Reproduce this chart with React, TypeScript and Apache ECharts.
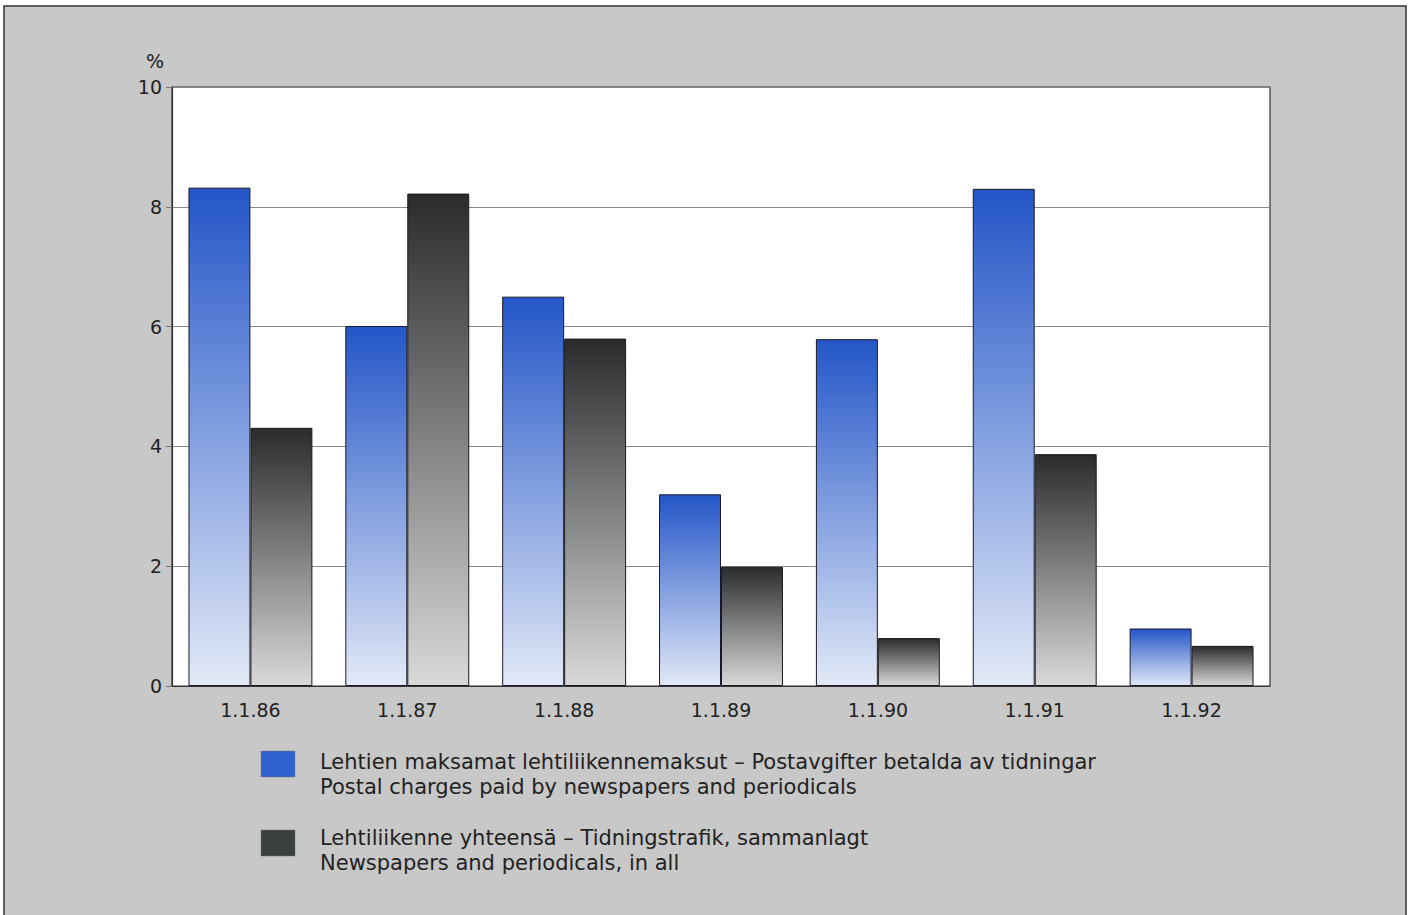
import React, { useEffect, useRef } from "react";
import * as echarts from "echarts";

const categories = ["1.1.86", "1.1.87", "1.1.88", "1.1.89", "1.1.90", "1.1.91", "1.1.92"];
const postalCharges = [8.32, 6.01, 6.5, 3.2, 5.79, 8.3, 0.96];
const trafficTotal = [4.31, 8.22, 5.8, 1.99, 0.8, 3.87, 0.67];
const yTicks = { min: 0, max: 10, interval: 2 };
const seriesNames = [
  "Lehtien maksamat lehtiliikennemaksut \u2013 Postavgifter betalda av tidningar\nPostal charges paid by newspapers and periodicals",
  "Lehtiliikenne yhteensä \u2013 Tidningstrafik, sammanlagt\nNewspapers and periodicals, in all",
];

const FONT = "'DejaVu Sans', sans-serif";

export default function App() {
  const ref = useRef<HTMLDivElement>(null);
  useEffect(() => {
    if (!ref.current) return;
    const chart = echarts.init(ref.current, undefined, { renderer: "svg" });
    const blueGrad = new echarts.graphic.LinearGradient(0, 0, 0, 1, [
      { offset: 0, color: "#2456c8" },
      { offset: 1, color: "#e2e9f7" },
    ]);
    const grayGrad = new echarts.graphic.LinearGradient(0, 0, 0, 1, [
      { offset: 0, color: "#2a2b2d" },
      { offset: 1, color: "#d9d9d9" },
    ]);
    const legendLines = seriesNames.map((n) => n.split("\n"));
    const lf = `21px ${FONT}`;
    chart.setOption({
      animation: false,
      backgroundColor: "#ffffff",
      textStyle: { fontFamily: FONT },
      graphic: [
        {
          type: "rect",
          z: -10,
          shape: { x: 4, y: 6, width: 1402, height: 915 },
          style: { fill: "#c8c8c8", stroke: "#333", lineWidth: 1.5 },
        },
        {
          type: "text",
          x: 155,
          y: 61,
          style: { text: "%", font: `19px ${FONT}`, fill: "#222", align: "center", verticalAlign: "middle" },
        },
        {
          type: "rect",
          shape: { x: 261, y: 751, width: 34, height: 26 },
          style: { fill: "#3160d0", stroke: "#777", lineWidth: 0.5 },
        },
        {
          type: "text",
          x: 320,
          y: 762,
          style: { text: legendLines[0][0], font: lf, fill: "#222", verticalAlign: "middle" },
        },
        {
          type: "text",
          x: 320,
          y: 787,
          style: { text: legendLines[0][1], font: lf, fill: "#222", verticalAlign: "middle" },
        },
        {
          type: "rect",
          shape: { x: 261, y: 830, width: 34, height: 26 },
          style: { fill: "#3b3e3f", stroke: "#777", lineWidth: 0.5 },
        },
        {
          type: "text",
          x: 320,
          y: 838,
          style: { text: legendLines[1][0], font: lf, fill: "#222", verticalAlign: "middle" },
        },
        {
          type: "text",
          x: 320,
          y: 863,
          style: { text: legendLines[1][1], font: lf, fill: "#222", verticalAlign: "middle" },
        },
      ],
      grid: {
        left: 172,
        top: 87,
        width: 1098,
        height: 599,
        show: true,
        backgroundColor: "#ffffff",
        borderColor: "#333",
        borderWidth: 1.2,
      },
      xAxis: {
        type: "category",
        data: categories,
        axisLine: { lineStyle: { color: "#333", width: 1.2 } },
        axisTick: { show: false },
        axisLabel: { color: "#222", fontSize: 19, margin: 14, fontFamily: FONT },
      },
      yAxis: {
        type: "value",
        min: yTicks.min,
        max: yTicks.max,
        interval: yTicks.interval,
        axisLine: { show: true, lineStyle: { color: "#333", width: 1.2 } },
        axisTick: { show: true, length: 6, lineStyle: { color: "#777" } },
        axisLabel: { color: "#222", fontSize: 19, margin: 10, fontFamily: FONT },
        splitLine: { show: true, lineStyle: { color: "#8a8a8a", width: 1 } },
      },
      series: [
        {
          name: seriesNames[0],
          type: "bar",
          data: postalCharges,
          barGap: "0%",
          barCategoryGap: "21%",
          itemStyle: { color: blueGrad, borderColor: "#1a1a2a", borderWidth: 1 },
        },
        {
          name: seriesNames[1],
          type: "bar",
          data: trafficTotal,
          itemStyle: { color: grayGrad, borderColor: "#1a1a1a", borderWidth: 1 },
        },
      ],
    });
    return () => chart.dispose();
  }, []);
  return (
    <div
      ref={ref}
      style={{ position: "fixed", left: 0, top: 0, width: 1414, height: 915 }}
    />
  );
}
